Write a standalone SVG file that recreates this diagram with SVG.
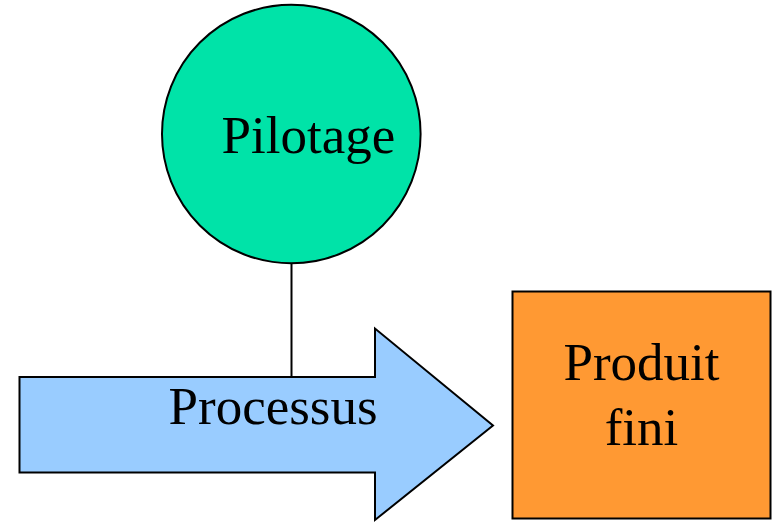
<svg xmlns="http://www.w3.org/2000/svg" width="772" height="523" viewBox="0 0 772 523">
<style>
.s{stroke:#000;stroke-width:2}
.t{font-family:"Liberation Serif","Times New Roman",serif;font-size:53px;fill:#000}
</style>
<rect width="772" height="523" fill="#fff"/>
<g id="connectors">
<line class="s" x1="291.5" y1="262" x2="291.5" y2="377"/>
</g>
<g id="pilotage">
<circle class="s" cx="291.3" cy="134" r="129.3" fill="#00E3A8"/>
<text class="t" x="221.5" y="153">Pilotage</text>
</g>
<g id="processus">
<polygon class="s" points="19.5,377 375,377 375,328.5 493,425.5 375,520 375,472.5 19.5,472.5" fill="#99CCFF"/>
<text class="t" x="168.5" y="423.5">Processus</text>
</g>
<g id="produit">
<rect class="s" x="512.5" y="291.5" width="258" height="227" fill="#FF9933"/>
<text class="t" x="641.5" y="380" text-anchor="middle">Produit</text>
<text class="t" x="641.5" y="445" text-anchor="middle">fini</text>
</g>
</svg>
